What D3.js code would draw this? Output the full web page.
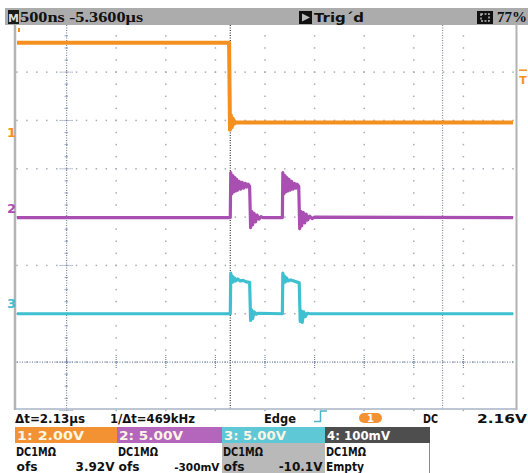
<!DOCTYPE html>
<html>
<head>
<meta charset="utf-8">
<script src="https://cdn.jsdelivr.net/npm/d3@7"></script>
<style>
  body { margin: 0; background: #fff; }
  text { font-family: "DejaVu Sans", sans-serif; font-weight: bold; }
</style>
</head>
<body>
<div id="scope"></div>
<script>
const width = 528, height = 473;

// traces: [time ns from trigger, volts]
const ch1 = [[-2150, 3.3], [-12, 3.3], [-3, -0.3], [6, 0.3], [15, -0.2], [26, 0.15], [40, -0.05], [60, 0], [2850, 0]];
const ch2 = [[-2150, 0.25], [0, 0.25], [5, 4.9], [15, 2.7], [25, 4.6], [35, 2.9], [45, 4.4], [55, 3.0], [65, 4.2], [75, 3.1],
  [90, 4.0], [105, 3.2], [120, 3.9], [135, 3.3], [150, 3.8], [165, 3.4], [180, 3.7], [195, 3.5], [205, -0.8], [215, 0.9],
  [225, -0.5], [240, 0.7], [255, -0.2], [270, 0.5], [290, 0.1], [310, 0.35], [330, 0.25], [525, 0.25], [530, 4.9],
  [540, 2.7], [550, 4.6], [560, 2.9], [570, 4.4], [580, 3.0], [592, 4.2], [604, 3.1], [618, 4.0], [632, 3.2], [646, 3.8],
  [660, 3.3], [674, 3.7], [690, 3.5], [700, -0.9], [710, 0.9], [720, -0.6], [735, 0.8], [750, -0.3], [765, 0.6],
  [780, 0.0], [800, 0.4], [825, 0.15], [850, 0.3], [2850, 0.25]];
const ch3 = [[-2150, 0.1], [0, 0.1], [5, 4.3], [12, 3.3], [20, 4.0], [30, 3.4], [42, 3.8], [55, 3.5], [75, 3.7], [100, 3.5],
  [130, 3.55], [160, 3.4], [195, 3.35], [205, -0.6], [215, 0.5], [225, -0.4], [240, 0.3], [260, 0.05], [280, 0.15],
  [525, 0.1], [530, 4.3], [538, 3.3], [546, 4.0], [556, 3.4], [568, 3.8], [582, 3.5], [610, 3.6], [650, 3.45], [695, 3.3],
  [705, -0.7], [715, 0.4], [725, -0.8], [740, 0.3], [755, -0.2], [775, 0.15], [800, 0.1], [2850, 0.1]];

const channelNames = ['1', '2', '3', '4'];
const voltsPerDiv = [2, 5, 5, 0.1];
const offsets = [3.92, -0.3, -10.1, 0];
const scaleLabels = ['1: 2.00V', '2: 5.00V', '3: 5.00V', '4: 100mV'];
const couplingLabels = ['DC1MΩ', 'DC1MΩ', 'DC1MΩ', 'DC1MΩ'];
const offsetLabels = ['3.92V', '-300mV', '-10.1V', ''];

const timePerDiv = 500;          // ns
const timeWindow = [-2150, 2850]; // ns
const cursors = [10, 2140];      // ns
const triggerLevel = 2.16;       // V on ch1

const traceColors = ['#f3901f', '#a94fb2', '#3fc0d1'];
const boxColors = ['#f39232', '#b466bd', '#5ec8d6', '#4e4e4e'];

const svg = d3.select('#scope').append('svg')
  .attr('width', width)
  .attr('height', height);

svg.append('rect').attr('width', width).attr('height', height).attr('fill', '#fff');

const x = d3.scaleLinear().domain(timeWindow).range([17, 513]);
const y = d3.scaleLinear().domain([-4, 4]).range([410.4, 23.8]);
const yv = (i, v) => y((v + offsets[i]) / voltsPerDiv[i]);

// graticule
const grid = svg.append('g');
const xDivs = d3.range(1, 10).map(i => timeWindow[0] + i * timePerDiv);
const yDivs = d3.range(-3, 4);

xDivs.forEach(t => {
  grid.selectAll(null)
    .data(d3.range(-4, 4.01, 0.25))
    .join('rect')
      .attr('x', x(t) - 0.75).attr('y', d => y(d) - 0.75)
      .attr('width', 1.5).attr('height', 1.5)
      .attr('fill', '#a7adb8');
});
yDivs.forEach(d => {
  grid.selectAll(null)
    .data(d3.range(timeWindow[0], timeWindow[1] + 1, timePerDiv / 5))
    .join('rect')
      .attr('x', t => x(t) - 0.75).attr('y', y(d) - 0.75)
      .attr('width', 1.5).attr('height', 1.5)
      .attr('fill', '#a7adb8');
});

// tick axes
const axisColor = '#7488ad';
const axX = x(xDivs[0]), axY = y(-3);
grid.append('line')
  .attr('x1', axX).attr('x2', axX).attr('y1', 25).attr('y2', 409)
  .attr('stroke', axisColor).attr('stroke-width', 1.2).attr('stroke-dasharray', '1,1.5');
grid.selectAll(null)
  .data(d3.range(-4, 4.01, 0.25))
  .join('line')
    .attr('x1', d => axX - (Number.isInteger(d) ? 7 : 2))
    .attr('x2', d => axX + (Number.isInteger(d) ? 7 : 2))
    .attr('y1', d => y(d)).attr('y2', d => y(d))
    .attr('stroke', axisColor).attr('stroke-width', 1).attr('stroke-dasharray', '1,1');
grid.append('line')
  .attr('x1', 17).attr('x2', 513).attr('y1', axY).attr('y2', axY)
  .attr('stroke', axisColor).attr('stroke-width', 1.2).attr('stroke-dasharray', '1,1.5');
grid.selectAll(null)
  .data(xDivs)
  .join('line')
    .attr('x1', t => x(t)).attr('x2', t => x(t))
    .attr('y1', axY - 7).attr('y2', axY + 7)
    .attr('stroke', axisColor).attr('stroke-width', 1.2).attr('stroke-dasharray', '1,1');

// trigger position and cursors
svg.append('line')
  .attr('x1', x(cursors[1])).attr('x2', x(cursors[1])).attr('y1', 25).attr('y2', 409)
  .attr('stroke', '#8a8f99').attr('stroke-width', 1.2).attr('stroke-dasharray', '1,1.5');
svg.append('line')
  .attr('x1', x(0)).attr('x2', x(0)).attr('y1', 25).attr('y2', 409)
  .attr('stroke', '#333').attr('stroke-width', 1.2).attr('stroke-dasharray', '1,1.5');

// traces
svg.append('clipPath').attr('id', 'plot-clip')
  .append('rect').attr('x', 16).attr('y', 25).attr('width', 500).attr('height', 384);

const traces = [ch1, ch2, ch3];
traces.forEach((data, i) => {
  const line = d3.line()
    .x(d => x(d[0]))
    .y(d => yv(i, d[1]));
  svg.append('path')
    .datum(data)
    .attr('clip-path', 'url(#plot-clip)')
    .attr('fill', 'none')
    .attr('stroke', traceColors[i])
    .attr('stroke-width', i === 0 ? 4 : 3.2)
    .attr('stroke-linejoin', 'round')
    .attr('d', line);
});

// frame
svg.append('line').attr('x1', 15).attr('x2', 15).attr('y1', 25).attr('y2', 410)
  .attr('stroke', '#b3b3b3').attr('stroke-width', 2.5);
svg.append('line').attr('x1', 516.5).attr('x2', 516.5).attr('y1', 25).attr('y2', 410)
  .attr('stroke', '#b3b3b3').attr('stroke-width', 2);
svg.append('line').attr('x1', 15).attr('x2', 517).attr('y1', 409).attr('y2', 409)
  .attr('stroke', '#a9b3c4').attr('stroke-width', 1.5);

// channel markers
const markerShift = [14.5, -7, -6.5];
traces.forEach((d, i) => {
  svg.append('text')
    .attr('x', 7).attr('y', yv(i, 0) + markerShift[i])
    .attr('font-size', 13)
    .attr('fill', traceColors[i])
    .text(channelNames[i]);
});
svg.append('rect').attr('x', 18).attr('y', 28).attr('width', 2).attr('height', 4).attr('fill', traceColors[0]);

// trigger level marker
const tlY = yv(0, triggerLevel);
svg.append('line').attr('x1', 519).attr('x2', 527).attr('y1', tlY).attr('y2', tlY)
  .attr('stroke', traceColors[0]).attr('stroke-width', 1.5);
svg.append('text').attr('x', 523).attr('y', tlY + 14).attr('text-anchor', 'middle')
  .attr('font-size', 11).attr('fill', traceColors[0]).text('T');

// top status bar
svg.append('rect').attr('x', 5).attr('y', 8).attr('width', 523).attr('height', 17).attr('fill', '#acacac');
svg.append('rect').attr('x', 8).attr('y', 10).attr('width', 11).attr('height', 14).attr('fill', '#1a1a1a');
svg.append('text').attr('x', 13.5).attr('y', 21.5).attr('text-anchor', 'middle')
  .attr('font-size', 11).attr('fill', '#ddd').text('M');
svg.append('text').attr('x', 20).attr('y', 22)
  .style('font-family', '"Liberation Serif", serif')
  .attr('font-size', 15).attr('fill', '#111')
  .attr('textLength', 123).attr('lengthAdjust', 'spacingAndGlyphs')
  .text('500ns -5.3600μs');
svg.append('rect').attr('x', 299).attr('y', 11).attr('width', 13).attr('height', 13).attr('fill', '#111');
svg.append('path').attr('d', 'M302,13.5 L310,17.5 L302,21.5 Z').attr('fill', '#bbb');
svg.append('text').attr('x', 314).attr('y', 22).attr('font-size', 13).attr('fill', '#111')
  .attr('textLength', 50).attr('lengthAdjust', 'spacingAndGlyphs').text('Trig\u00b4d');
svg.append('rect').attr('x', 477).attr('y', 11).attr('width', 16).attr('height', 13).attr('fill', '#111');
svg.append('rect').attr('x', 481).attr('y', 14).attr('width', 8).attr('height', 7).attr('fill', 'none')
  .attr('stroke', '#bbb').attr('stroke-width', 1.5).attr('stroke-dasharray', '2,1.5');
svg.append('text').attr('x', 497).attr('y', 22)
  .style('font-family', '"Liberation Serif", serif')
  .attr('font-size', 14).attr('fill', '#111')
  .attr('textLength', 30).attr('lengthAdjust', 'spacingAndGlyphs').text('77%');

// bottom info panel: backgrounds first, then text
const colX = [15, 117, 222, 325, 430];
const panelBg = svg.append('g');
channelNames.forEach((n, i) => {
  panelBg.append('rect').attr('x', colX[i]).attr('y', 427).attr('width', colX[i + 1] - colX[i]).attr('height', 16)
    .attr('fill', boxColors[i]);
});
panelBg.append('rect').attr('x', colX[2]).attr('y', 443).attr('width', colX[3] - colX[2]).attr('height', 30)
  .attr('fill', '#b9b9b9');
panelBg.append('line').attr('x1', 429.5).attr('x2', 429.5).attr('y1', 443).attr('y2', 473)
  .attr('stroke', '#8a8a8a').attr('stroke-width', 1);

const info = svg.append('g').attr('font-size', 12).attr('fill', '#111');
const dt = cursors[1] - cursors[0];
const put = (g, tx, ty, str, len, anchor) => g.append('text')
  .attr('x', tx).attr('y', ty)
  .attr('text-anchor', anchor || 'start')
  .attr('textLength', len).attr('lengthAdjust', 'spacingAndGlyphs')
  .text(str);

put(info, 15, 423, `Δt=${(dt / 1000).toFixed(2)}μs`, 70);
put(info, 110, 423, `1/Δt=${Math.round(1e6 / dt)}kHz`, 85);
put(info, 264, 423, 'Edge', 32);
info.append('path').attr('d', 'M314,421.5 H320.5 V411 H327')
  .attr('fill', 'none').attr('stroke', '#4fb3c8').attr('stroke-width', 1.5);
info.append('rect').attr('x', 359).attr('y', 413).attr('width', 23).attr('height', 10).attr('rx', 5)
  .attr('fill', boxColors[0]);
info.append('text').attr('x', 370.5).attr('y', 422).attr('text-anchor', 'middle')
  .attr('font-size', 10).attr('fill', '#fff').text(channelNames[0]);
put(info, 423, 423, 'DC', 15);
put(info, 477, 423, `${triggerLevel.toFixed(2)}V`, 50);

const scaleLen = [67, 64, 62, 63];
const ofsLen = [38, 43, 48, 0];
channelNames.forEach((n, i) => {
  const t = put(info, colX[i] + 2, 439.5, scaleLabels[i], scaleLen[i]);
  t.attr('fill', i === 3 ? '#fff' : '#fdf6e6');
  put(info, colX[i] + 1, 455.5, couplingLabels[i], 40);
  if (i < 3) {
    put(info, colX[i] + 1.5, 470.5, 'ofs', 21);
    info.append('text')
      .attr('x', colX[i + 1] - 2.5).attr('y', 470.5)
      .attr('text-anchor', 'end')
      .attr('font-size', i === 1 ? 10.5 : 12)
      .text(offsetLabels[i]);
  } else {
    put(info, colX[i] + 1, 470.5, 'Empty', 38);
  }
});
</script>
</body>
</html>
